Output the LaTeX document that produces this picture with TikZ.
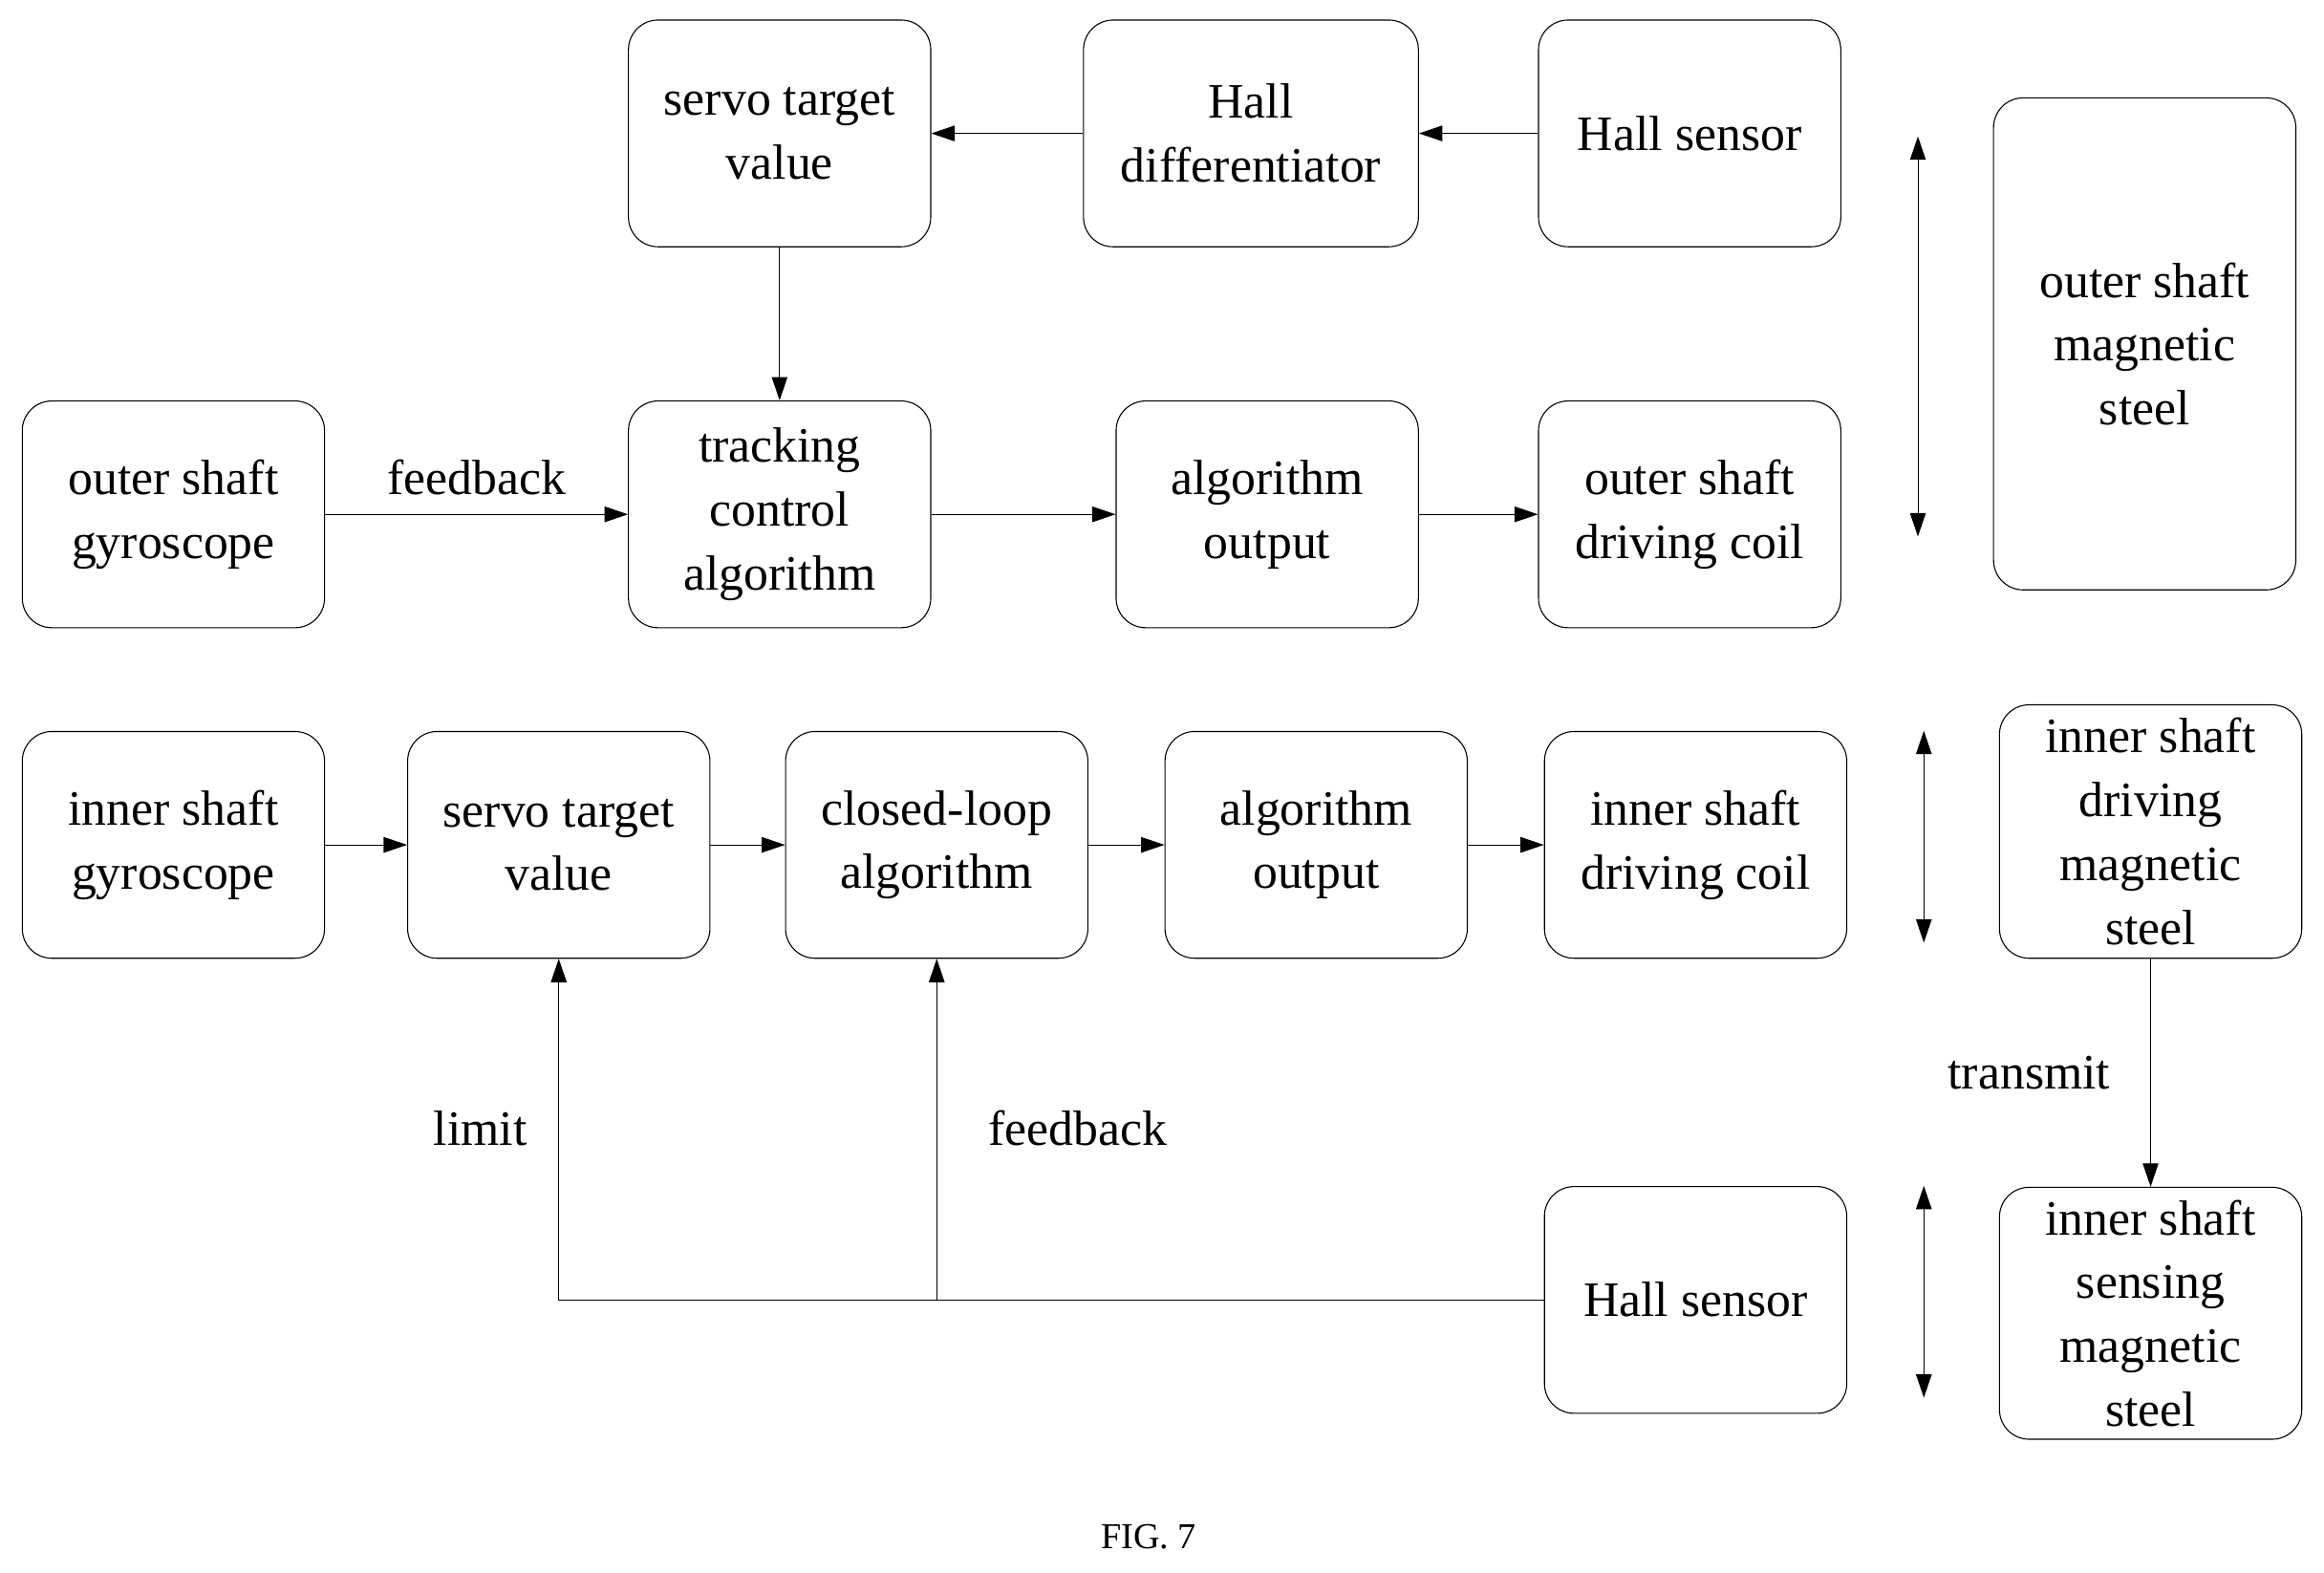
\documentclass[tikz,border=0pt]{standalone}
\usepackage{fontspec}
\setmainfont{Liberation Serif}
\usetikzlibrary{arrows.meta}
\begin{document}
\begin{tikzpicture}[x=0.02cm,y=-0.02cm,
  blk/.style={draw,rounded corners=0.4cm,minimum width=4.08cm,minimum height=3.06cm,align=center,
    font=\fontsize{19}{24.5}\selectfont,inner sep=1pt},
  lbl/.style={font=\fontsize{19}{24.5}\selectfont},
  arr/.style={-{Triangle[length=9pt,width=6pt]}},
  dbl/.style={{Triangle[length=9pt,width=6pt]}-{Triangle[length=9pt,width=6pt]}}]
\useasboundingbox (0,0) rectangle (1568,1061);
% top loop
\node[blk] (stv1) at (526,90) {servo target\\value};
\node[blk,minimum width=4.52cm] (hd) at (844,90) {Hall\\differentiator};
\node[blk] (hs1) at (1140,90) {Hall sensor};
\node[blk] (og) at (117,347) {outer shaft\\gyroscope};
\node[blk] (tca) at (526,347) {tracking\\control\\algorithm};
\node[blk] (ao1) at (855,347) {algorithm\\output};
\node[blk] (odc) at (1140,347) {outer shaft\\driving coil};
\node[blk,minimum height=6.64cm] (oms) at (1447,232) {outer shaft\\magnetic\\steel};
\draw[arr] (hs1) -- (hd);
\draw[arr] (hd) -- (stv1);
\draw[arr] (stv1) -- (tca);
\draw[arr] (og) -- node[lbl,above=4pt]{feedback} (tca);
\draw[arr] (tca) -- (ao1);
\draw[arr] (ao1) -- (odc);
\coordinate (d1a) at (1294,92); \coordinate (d1b) at (1294,362);
\draw[dbl] (d1a) -- (d1b);
% bottom loop
\node[blk] (ig) at (117,570) {inner shaft\\gyroscope};
\node[blk] (stv2) at (377,570) {servo target\\value};
\node[blk] (cla) at (632,570) {closed-loop\\algorithm};
\node[blk] (ao2) at (888,570) {algorithm\\output};
\node[blk] (idc) at (1144,570) {inner shaft\\driving coil};
\node[blk,minimum height=3.42cm] (idm) at (1451,561) {inner shaft\\driving\\magnetic\\steel};
\node[blk] (hs2) at (1144,877) {Hall sensor};
\node[blk,minimum height=3.4cm] (ism) at (1451,886) {inner shaft\\sensing\\magnetic\\steel};
\draw[arr] (ig) -- (stv2);
\draw[arr] (stv2) -- (cla);
\draw[arr] (cla) -- (ao2);
\draw[arr] (ao2) -- (idc);
\draw[arr] (idm) -- node[lbl,left=12pt]{transmit} (ism);
\coordinate (br) at (632,877);
\draw[arr] (hs2.west) -- (br) -| (stv2.south);
\draw[arr] (br) -- (cla.south);
\node[lbl] (lim) at (324,761) {limit};
\node[lbl] (fb) at (727,761) {feedback};
\coordinate (d2a) at (1298,493); \coordinate (d2b) at (1298,636);
\draw[dbl] (d2a) -- (d2b);
\coordinate (d3a) at (1298,800); \coordinate (d3b) at (1298,943);
\draw[dbl] (d3a) -- (d3b);
\node[font=\fontsize{14}{16}\selectfont] (fig) at (775,1037) {FIG. 7};
\end{tikzpicture}
\end{document}
